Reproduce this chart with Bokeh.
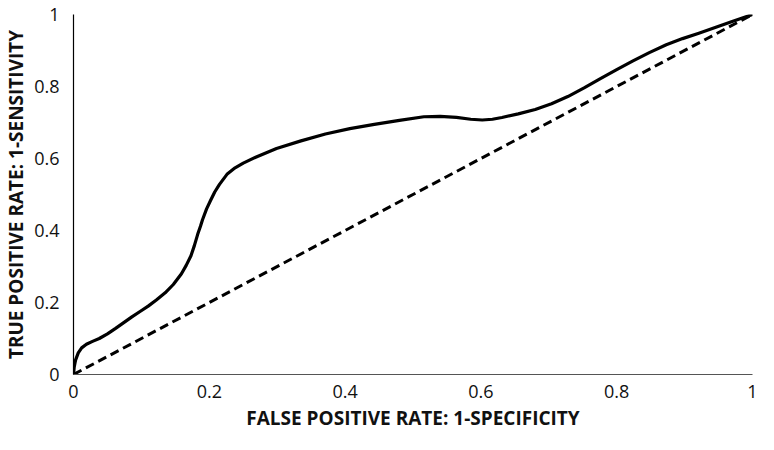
from bokeh.plotting import figure
from bokeh.models import FixedTicker
from bokeh.embed import file_html
from bokeh.resources import INLINE

# ROC curve
fpr = [0.0, 0.001, 0.003, 0.007, 0.012, 0.019, 0.028, 0.038, 0.05, 0.062, 0.074,
       0.086, 0.098, 0.11, 0.122, 0.135, 0.147, 0.159, 0.166, 0.173, 0.178,
       0.183, 0.187, 0.19, 0.196, 0.202, 0.208, 0.215, 0.226, 0.238, 0.25,
       0.27, 0.299, 0.335, 0.371, 0.407, 0.443, 0.48, 0.516, 0.54, 0.564,
       0.585, 0.602, 0.617, 0.631, 0.655, 0.68, 0.704, 0.728, 0.752, 0.776,
       0.8, 0.824, 0.848, 0.873, 0.897, 0.921, 0.945, 0.969, 0.985, 1.0]
tpr = [0.0, 0.02, 0.04, 0.06, 0.074, 0.084, 0.092, 0.10, 0.113, 0.128, 0.144,
       0.16, 0.175, 0.19, 0.207, 0.227, 0.25, 0.28, 0.303, 0.33, 0.358,
       0.39, 0.412, 0.43, 0.46, 0.484, 0.507, 0.528, 0.556, 0.574, 0.587,
       0.605, 0.628, 0.649, 0.668, 0.683, 0.695, 0.706, 0.716, 0.717, 0.714,
       0.709, 0.707, 0.709, 0.714, 0.724, 0.736, 0.752, 0.772, 0.796, 0.822,
       0.847, 0.871, 0.894, 0.916, 0.933, 0.948, 0.964, 0.98, 0.99, 1.0]
diag_x = [0, 1]
diag_y = [0, 1]
ticks = [0, 0.2, 0.4, 0.6, 0.8, 1]
tick_labels = {0: "0", 0.2: "0.2", 0.4: "0.4", 0.6: "0.6", 0.8: "0.8", 1: "1"}

p = figure(width=758, height=434, output_backend="svg", toolbar_location=None,
           x_range=(0, 1), y_range=(0, 1),
           min_border_left=69, min_border_right=6, min_border_top=14, min_border_bottom=60)
p.outline_line_color = None
p.grid.visible = False

p.line(diag_x, diag_y, line_color="black", line_width=3, line_dash="9 5")
p.line(fpr, tpr, line_color="black", line_width=3.2, line_join="round", line_cap="round")

FONT = "Open Sans"
for ax in (p.xaxis[0], p.yaxis[0]):
    ax.ticker = FixedTicker(ticks=ticks)
    ax.major_label_overrides = tick_labels
    ax.major_tick_line_color = None
    ax.minor_tick_line_color = None
    ax.major_tick_out = 0
    ax.major_tick_in = 0
    ax.minor_tick_out = 0
    ax.minor_tick_in = 0
    ax.axis_line_width = 1.2
    ax.major_label_text_font = FONT
    ax.major_label_text_font_size = "18px"
    ax.major_label_text_color = "#111111"
    ax.axis_label_text_font = FONT
    ax.axis_label_text_font_style = "bold"
    ax.axis_label_text_font_size = "19px"
    ax.axis_label_text_color = "#111111"

p.xaxis[0].axis_label = "FALSE POSITIVE RATE: 1-SPECIFICITY"
p.yaxis[0].axis_label = "TRUE POSITIVE RATE: 1-SENSITIVITY"
p.xaxis[0].major_label_standoff = 10
p.yaxis[0].major_label_standoff = 14
p.xaxis[0].axis_label_standoff = 4
p.yaxis[0].axis_label_standoff = 2
p.yaxis[0].axis_line_color = "#000000"
p.xaxis[0].axis_line_color = "#555555"

open("out.html", "w").write(file_html(p, INLINE))
